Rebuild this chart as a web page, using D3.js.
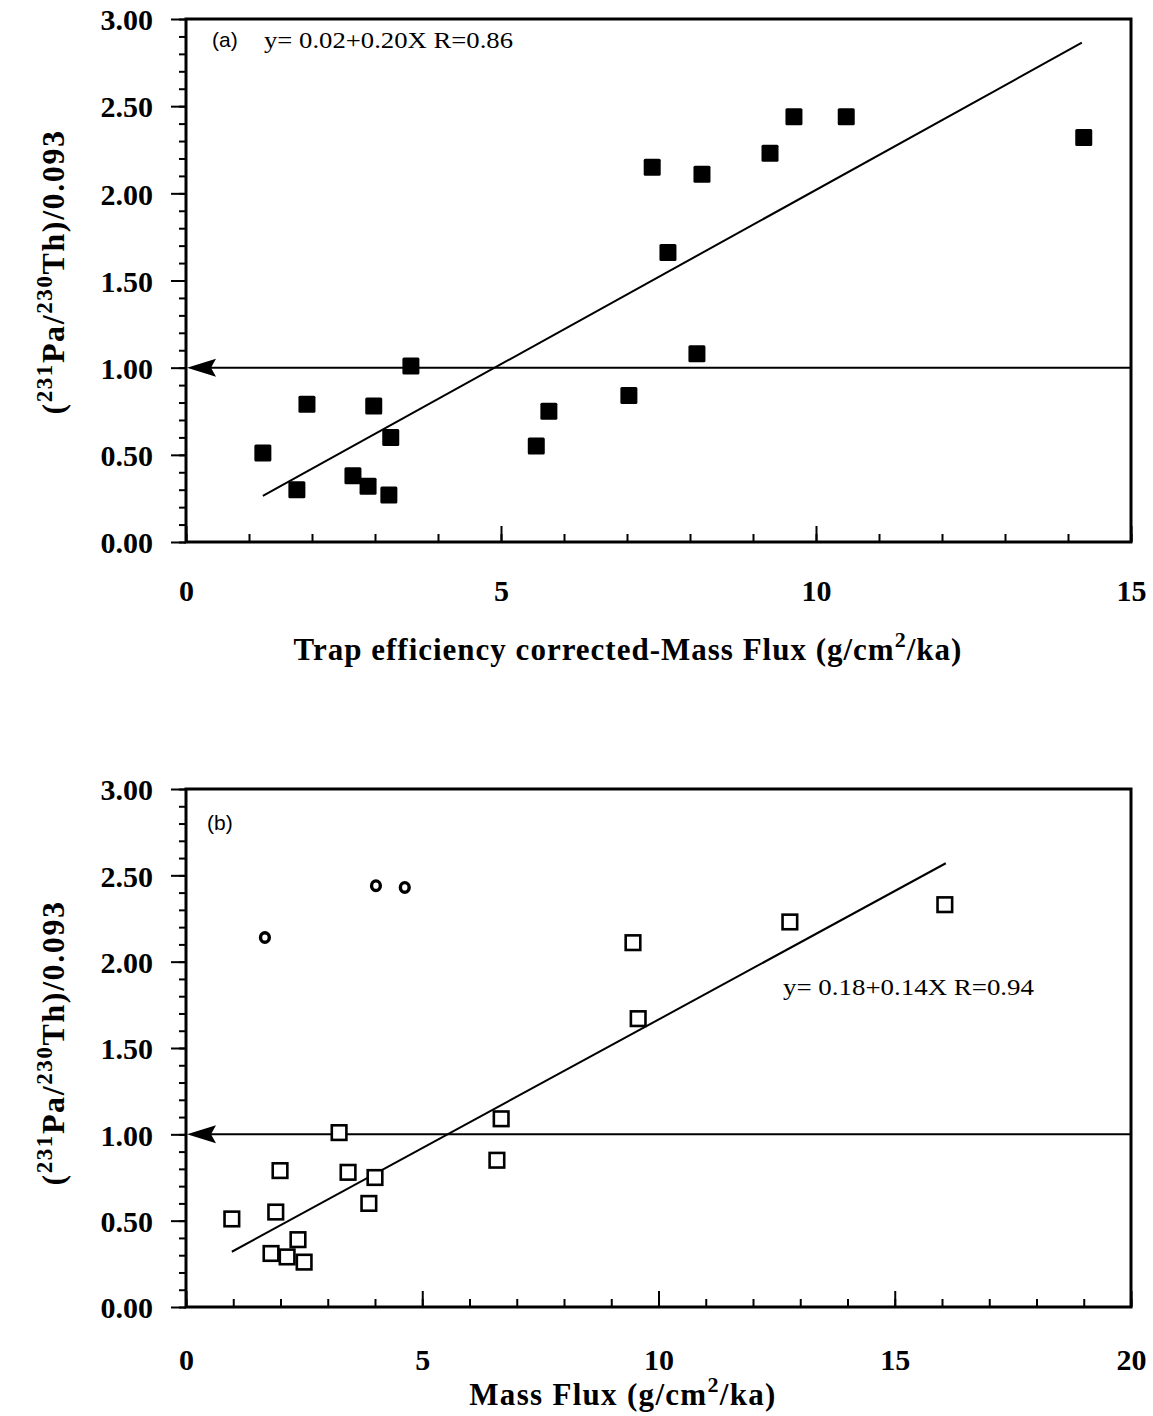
<!DOCTYPE html>
<html>
<head>
<meta charset="utf-8">
<script src="https://cdn.jsdelivr.net/npm/d3@7"></script>
<style>
  html, body { margin: 0; padding: 0; background: #fff; }
  svg { display: block; }
  .tick text { font-family: "Liberation Serif", serif; font-weight: bold; font-size: 30px; fill: #000; }
</style>
</head>
<body>
<svg id="chart" width="1153" height="1416"></svg>
<script>
// Panel (a): trap-efficiency corrected mass flux vs. Pa/Th ratio
const fluxCorrected = [1.22, 1.76, 1.92, 2.65, 2.89, 2.98, 3.25, 3.22, 3.57, 5.56,
                       5.76, 7.03, 7.40, 7.65, 8.11, 8.19, 9.27, 9.65, 10.48, 14.25];
const ratioA        = [0.51, 0.30, 0.79, 0.38, 0.32, 0.78, 0.60, 0.27, 1.01, 0.55,
                       0.75, 0.84, 2.15, 1.66, 1.08, 2.11, 2.23, 2.44, 2.44, 2.32];
const fitAIntercept = 0.02;
const fitASlope = 0.20;
const fitAXRange = [1.22, 14.22];

// Panel (b): uncorrected mass flux vs. Pa/Th ratio
const massFlux = [0.97, 1.90, 1.99, 1.80, 2.14, 2.37, 2.50, 3.24, 3.43, 4.00,
                  3.87, 6.67, 6.58, 9.46, 9.57, 12.78, 16.06];
const ratioB   = [0.51, 0.55, 0.79, 0.31, 0.29, 0.39, 0.26, 1.01, 0.78, 0.75,
                  0.60, 1.09, 0.85, 2.11, 1.67, 2.23, 2.33];
// samples left out of the regression
const massFluxExcluded = [1.67, 4.02, 4.63];
const ratioExcluded    = [2.14, 2.44, 2.43];
// regression line end points
const fitBX = [0.97, 16.08];
const fitBY = [0.32, 2.57];

const yTicks = [0, 0.5, 1.0, 1.5, 2.0, 2.5, 3.0];
const xTicksA = [0, 5, 10, 15];
const xTicksB = [0, 5, 10, 15, 20];
const referenceRatio = 1.0;

const svg = d3.select("#chart");
const serif = '"Liberation Serif", serif';
const sans = '"Liberation Sans", Arial, sans-serif';

function drawPanel(opt) {
  const x = d3.scaleLinear().domain(opt.xDomain).range([opt.left, opt.right]);
  const y = d3.scaleLinear().domain([0, 3]).range([opt.bottom, opt.top]);
  const g = svg.append("g");

  // minor y ticks (outward)
  g.append("g")
    .attr("transform", `translate(${opt.left},0)`)
    .call(d3.axisLeft(y).tickValues(d3.range(0, 3.0001, 0.1)).tickSize(7).tickFormat(""))
    .call(s => s.select(".domain").remove())
    .call(s => s.selectAll("line").attr("stroke-width", 2));

  // major y ticks with labels
  g.append("g")
    .attr("transform", `translate(${opt.left},0)`)
    .call(d3.axisLeft(y).tickValues(yTicks).tickSize(15).tickPadding(18).tickFormat(d3.format(".2f")))
    .call(s => s.select(".domain").remove())
    .call(s => s.selectAll("line").attr("stroke-width", 2))
    .call(s => s.selectAll("text").attr("dy", "0.36em"));

  // minor x ticks (inward)
  g.append("g")
    .attr("transform", `translate(0,${opt.bottom})`)
    .call(d3.axisBottom(x).tickValues(d3.range(opt.xDomain[0], opt.xDomain[1] + 0.001, 1)).tickSize(-8).tickFormat(""))
    .call(s => s.select(".domain").remove())
    .call(s => s.selectAll("line").attr("stroke-width", 2));

  // major x ticks with labels
  g.append("g")
    .attr("transform", `translate(0,${opt.bottom})`)
    .call(d3.axisBottom(x).tickValues(opt.xTicks).tickSizeInner(-16).tickSizeOuter(0).tickPadding(0).tickFormat(d3.format("d")))
    .call(s => s.select(".domain").remove())
    .call(s => s.selectAll("line").attr("stroke-width", 2))
    .call(s => s.selectAll("text").attr("y", opt.xLabelOffset).attr("dy", "0.36em"));

  // frame
  g.append("rect")
    .attr("x", opt.left).attr("y", opt.top)
    .attr("width", opt.right - opt.left).attr("height", opt.bottom - opt.top)
    .attr("fill", "none").attr("stroke", "#000").attr("stroke-width", 3);

  // reference line at ratio = 1 with arrow head at the axis
  const yr = y(referenceRatio);
  const x0 = x(opt.xDomain[0]);
  g.append("line")
    .attr("x1", x0 + 10).attr("x2", opt.right)
    .attr("y1", yr).attr("y2", yr)
    .attr("stroke", "#000").attr("stroke-width", 2);
  g.append("path")
    .attr("d", `M${x0 + 1},${yr} L${x0 + 30},${yr - 9} L${x0 + 25},${yr} L${x0 + 30},${yr + 9} Z`)
    .attr("fill", "#000");

  // regression line
  g.append("line")
    .attr("x1", x(opt.fitX[0])).attr("y1", y(opt.fitY[0]))
    .attr("x2", x(opt.fitX[1])).attr("y2", y(opt.fitY[1]))
    .attr("stroke", "#000").attr("stroke-width", 2);

  // y axis title
  const yl = g.append("text")
    .attr("transform", `translate(${opt.yTitleX},${opt.yTitleY}) rotate(-90)`)
    .attr("text-anchor", "middle")
    .attr("font-family", serif).attr("font-weight", "bold").attr("font-size", 32)
    .attr("letter-spacing", 1.6);
  yl.append("tspan").text("(");
  yl.append("tspan").attr("font-size", 23).attr("dy", -12).text("231");
  yl.append("tspan").attr("dy", 12).text("Pa/");
  yl.append("tspan").attr("font-size", 23).attr("dy", -12).text("230");
  yl.append("tspan").attr("dy", 12).text("Th)/0.093");

  // x axis title
  const xl = g.append("text")
    .attr("x", opt.xTitleX).attr("y", opt.xTitleY)
    .attr("text-anchor", "middle")
    .attr("font-family", serif).attr("font-weight", "bold").attr("font-size", 31)
    .attr("letter-spacing", opt.xTitleSpacing);
  xl.append("tspan").text(opt.xTitle);
  xl.append("tspan").attr("font-size", 22).attr("dy", -13).text("2");
  xl.append("tspan").attr("dy", 13).text("/ka)");

  return { g, x, y };
}

// ---- panel (a)
const pa = drawPanel({
  left: 186, right: 1131, top: 19, bottom: 542,
  xDomain: [0, 15], xTicks: xTicksA, xLabelOffset: 48,
  fitX: fitAXRange, fitY: fitAXRange.map(v => fitAIntercept + fitASlope * v),
  yTitleX: 64, yTitleY: 272,
  xTitle: "Trap efficiency corrected-Mass Flux (g/cm", xTitleX: 628, xTitleY: 660, xTitleSpacing: 1
});

pa.g.append("g").selectAll("rect")
  .data(d3.zip(fluxCorrected, ratioA))
  .join("rect")
  .attr("x", d => pa.x(d[0]) - 8.5).attr("y", d => pa.y(d[1]) - 8.5)
  .attr("width", 17).attr("height", 17).attr("rx", 1.5)
  .attr("fill", "#000");

pa.g.append("text").attr("x", 212).attr("y", 47)
  .attr("font-family", sans).attr("font-size", 21).text("(a)");
pa.g.append("text").attr("x", 264).attr("y", 48)
  .attr("font-family", serif).attr("font-size", 23)
  .attr("textLength", 249).attr("lengthAdjust", "spacingAndGlyphs")
  .text("y= 0.02+0.20X R=0.86");

// ---- panel (b)
const pb = drawPanel({
  left: 186, right: 1131, top: 789, bottom: 1307,
  xDomain: [0, 20], xTicks: xTicksB, xLabelOffset: 52,
  fitX: fitBX, fitY: fitBY,
  yTitleX: 64, yTitleY: 1043,
  xTitle: "Mass Flux (g/cm", xTitleX: 623, xTitleY: 1405, xTitleSpacing: 1.3
});

pb.g.append("g").selectAll("rect")
  .data(d3.zip(massFlux, ratioB))
  .join("rect")
  .attr("x", d => pb.x(d[0]) - 7.3).attr("y", d => pb.y(d[1]) - 7.3)
  .attr("width", 14.6).attr("height", 14.6)
  .attr("fill", "#fff").attr("stroke", "#000").attr("stroke-width", 2.6);

pb.g.append("g").selectAll("ellipse")
  .data(d3.zip(massFluxExcluded, ratioExcluded))
  .join("ellipse")
  .attr("cx", d => pb.x(d[0])).attr("cy", d => pb.y(d[1]))
  .attr("rx", 4.4).attr("ry", 4.8)
  .attr("fill", "none").attr("stroke", "#000").attr("stroke-width", 3.4);

pb.g.append("text").attr("x", 207).attr("y", 830)
  .attr("font-family", sans).attr("font-size", 21).text("(b)");
pb.g.append("text").attr("x", 783).attr("y", 995)
  .attr("font-family", serif).attr("font-size", 23)
  .attr("textLength", 251).attr("lengthAdjust", "spacingAndGlyphs")
  .text("y= 0.18+0.14X R=0.94");
</script>
</body>
</html>
